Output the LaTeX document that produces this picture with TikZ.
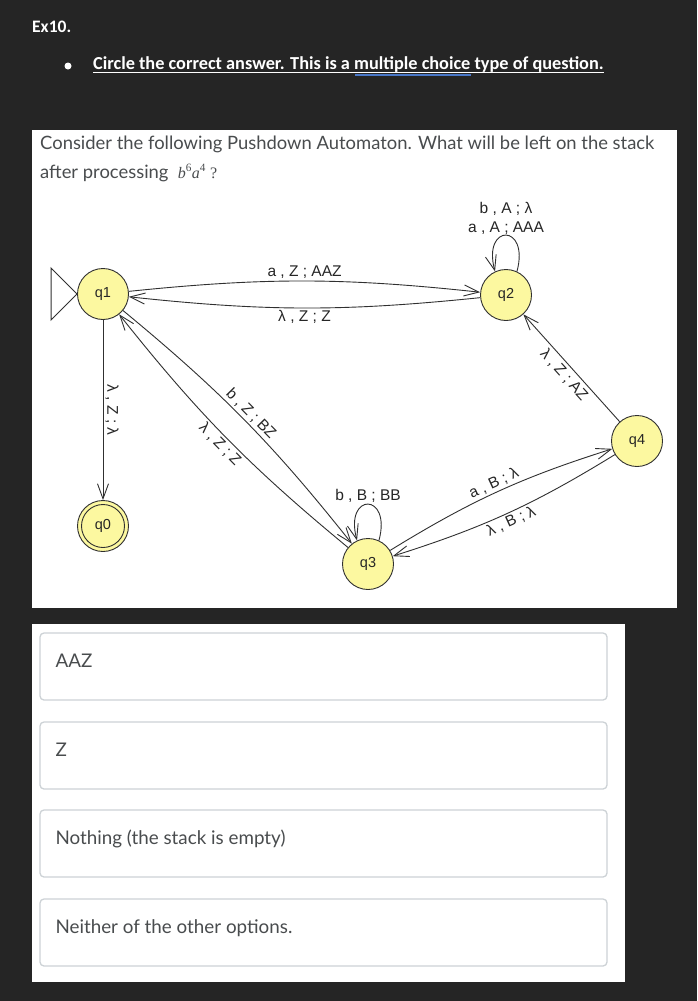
\documentclass[tikz,border=0pt]{standalone}
\usepackage{fontspec}
\setmainfont{Lato}
\newfontfamily\calibrifont{Carlito}
\newfontfamily\arialfont{Liberation Sans}
\newfontfamily\timesfont{Liberation Serif}
\usetikzlibrary{arrows.meta,calc,positioning}
\definecolor{pageDark}{HTML}{252525}
\definecolor{panelText}{HTML}{494C4E}
\definecolor{stateFill}{HTML}{FCF8A0}
\definecolor{stateLine}{HTML}{303030}
\definecolor{boxLine}{HTML}{CDD2D6}
\definecolor{linkBlue}{HTML}{4A78C8}
\tikzset{
  pdahead/.style={inner sep=0pt, text=white,
    font=\calibrifont\bfseries\fontsize{18.3}{21}\selectfont},
  pdatext/.style={inner sep=0pt, text=panelText,
    font=\fontsize{18.4}{21}\selectfont},
  pdastate/.style={circle, draw=stateLine, fill=stateFill, line width=0.9pt,
    minimum size=51pt, inner sep=0pt, text=black!85,
    font=\arialfont\fontsize{14.5}{16}\selectfont},
  pdaring/.style={draw=stateLine, line width=0.9pt},
  pdaedge/.style={-{Straight Barb[length=15pt,width=11pt]}, draw=stateLine,
    line width=0.9pt},
  pdalabel/.style={inner sep=2pt, text=black!85,
    font=\arialfont\fontsize{15.5}{19}\selectfont},
  pdachoice/.style={rectangle, rounded corners=4pt, draw=boxLine,
    line width=1.3pt, fill=white, minimum width=567pt,
    minimum height=67pt, inner sep=0pt},
  pdaanswer/.style={inner sep=0pt, text=panelText,
    font=\fontsize{18.8}{21}\selectfont}
}
\begin{document}
\begin{tikzpicture}[x=1pt,y=1pt]
  \fill[pageDark] (0,0) rectangle (697,-1001);
  \fill[white] (32,-130) rectangle (677,-608);
  \fill[white] (32,-624) rectangle (625,-982);

  \node[pdahead, anchor=base west, font=\calibrifont\bfseries\fontsize{17.5}{20}\selectfont] (ex) at (32,-32) {Ex10.};
  \node[circle, fill=white, inner sep=0pt, minimum size=7pt] (dot) at (68,-66) {};
  \node[pdahead, anchor=base west] (task) at (93,-69)
    {Circle the correct answer. This is a multiple choice type of question.};
  \draw[white, line width=1.3pt] ($(task.base west)+(0,-3.5)$) -- ($(task.base east)+(0,-3.5)$);
  \draw[linkBlue, line width=1.8pt] (355,-75) -- (471,-75);

  \node[pdatext, anchor=base west] (ask) at (40,-149)
    {Consider the following Pushdown Automaton. What will be left on the stack};
  \node[pdatext, anchor=base west] (ask2) at (40,-178)
    {after processing \ {\timesfont\fontsize{16}{18}\selectfont\itshape
     b\textsuperscript{\upshape 6}a\textsuperscript{\upshape 4} \upshape ?}};

  \node[pdastate] (q1) at (103,-294) {q1};
  \node[pdastate] (q2) at (506,-295) {q2};
  \node[pdastate] (q3) at (368,-564) {q3};
  \node[pdastate] (q4) at (637,-441) {q4};
  \node[pdastate] (q0) at (103,-526) {q0};
  \draw[pdaring] (q0.center) circle (21.5pt);

  \draw[stateLine, line width=0.9pt] (q1.west) -- ++(-26,26) -- ++(0,-52) -- cycle;

  \draw[pdaedge] (q1) to[bend left=6] node[pdalabel, above] {a , Z ; AAZ} (q2);
  \draw[pdaedge] (q2) to[bend left=6] node[pdalabel, below] {λ , Z ; Z} (q1);
  \draw[pdaedge] (q1) -- node[pdalabel, sloped, above] {λ , Z ; λ} (q0);
  \draw[pdaedge] (q1) to[bend left=6] node[pdalabel, sloped, above] {b , Z ; BZ} (q3);
  \draw[pdaedge] (q3) to[bend left=6] node[pdalabel, sloped, below] {λ , Z ; Z} (q1);
  \draw[pdaedge] (q3) to[bend left=7] node[pdalabel, sloped, above] {a , B ; λ} (q4);
  \draw[pdaedge] (q4) to[bend left=7] node[pdalabel, sloped, below] {λ , B ; λ} (q3);
  \draw[pdaedge] (q4) -- node[pdalabel, sloped, below=1pt] {λ , Z ; AZ} (q2);
  \draw[pdaedge] (q2.65) .. controls +(75:50) and +(105:50) .. (q2.115)
    node[pdalabel, pos=0.5, above=-2pt, align=center] {b , A ; λ\\a , A ; AAA};
  \draw[pdaedge] (q3.65) .. controls +(75:50) and +(105:50) .. (q3.115)
    node[pdalabel, pos=0.5, above=-1pt] {b , B ; BB};

  \node[pdachoice] (c1) at (323.5,-666.5) {};
  \node[pdachoice] (c2) at (323.5,-755.5) {};
  \node[pdachoice] (c3) at (323.5,-843.5) {};
  \node[pdachoice] (c4) at (323.5,-932.5) {};
  \node[pdaanswer, anchor=base west] (a1) at ([shift={(16,-35)}]c1.north west) {AAZ};
  \node[pdaanswer, anchor=base west] (a2) at ([shift={(16,-35)}]c2.north west) {Z};
  \node[pdaanswer, anchor=base west] (a3) at ([shift={(16,-35)}]c3.north west)
    {Nothing (the stack is empty)};
  \node[pdaanswer, anchor=base west] (a4) at ([shift={(16,-35)}]c4.north west)
    {Neither of the other options.};
\end{tikzpicture}
\end{document}
